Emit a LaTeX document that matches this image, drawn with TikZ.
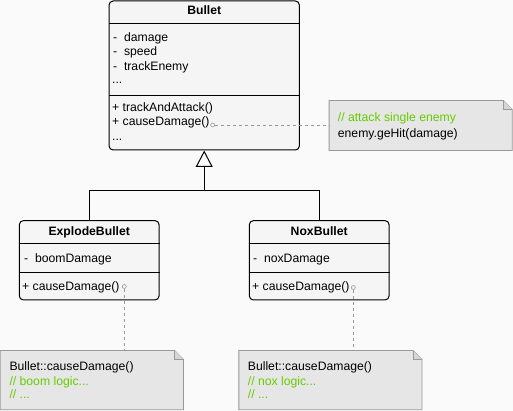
\documentclass[tikz,border=0pt]{standalone}
\usepackage{fontspec}
\setmainfont{Liberation Sans}
\usetikzlibrary{arrows.meta}
\definecolor{canvas}{HTML}{FAFAFA}
\definecolor{classfill}{HTML}{F5F5F5}
\definecolor{notefill}{HTML}{E6E6E6}
\definecolor{noteedge}{HTML}{999999}
\definecolor{foldgray}{HTML}{D6D6D6}
\definecolor{comment}{HTML}{66CC00}
\tikzset{%
    classbox/.style={draw, fill=classfill, rounded corners=4pt, line width=1pt, inner sep=0pt},
    member/.style={anchor=base west, inner sep=0pt, font=\fontsize{12.2}{14}\selectfont},
    title/.style={anchor=base, inner sep=0pt, font=\fontsize{12.2}{14}\selectfont\bfseries},
    remark/.style={member, text=comment},
    memo/.style={draw=noteedge, dash pattern=on 3pt off 3pt, line width=0.8pt},
    pin/.style={circle, draw=noteedge, fill=classfill, minimum size=4pt, inner sep=0pt, line width=0.6pt},
    notebox/.style={inner sep=0pt},
    noteline/.style={draw=noteedge, fill=notefill, line width=0.9pt}
}
\tikzset{divider/.style={line width=1pt}}
\newcommand{\drawnote}[1]{%
    \draw[noteline] (#1.south west) -- (#1.north west) -- ([xshift=-9pt]#1.north east)
        -- ([yshift=-9pt]#1.north east) -- (#1.south east) -- cycle;
    \draw[noteline, fill=foldgray] ([xshift=-9pt]#1.north east) -- ([xshift=-9pt,yshift=-9pt]#1.north east)
        -- ([yshift=-9pt]#1.north east);
}
\begin{document}
\begin{tikzpicture}[x=1pt, y=-1pt]
    \fill[canvas] (0,0) rectangle (513,411);
    \useasboundingbox (0,0) rectangle (513,411);

    % classes
    \node[classbox, minimum width=190.3pt, minimum height=149pt] (bullet) at (204.2,75.5) {};
    \node[classbox, minimum width=139.7pt, minimum height=79.3pt] (explode) at (89.2,260.3) {};
    \node[classbox, minimum width=139.7pt, minimum height=79.3pt] (nox) at (319.2,260.3) {};

    \draw[divider] (bullet.west |- 0,24) -- (bullet.east |- 0,24);
    \draw[divider] (bullet.west |- 0,95.7) -- (bullet.east |- 0,95.7);
    \draw[divider] (explode.west |- 0,244) -- (explode.east |- 0,244);
    \draw[divider] (explode.west |- 0,272.3) -- (explode.east |- 0,272.3);
    \draw[divider] (nox.west |- 0,244) -- (nox.east |- 0,244);
    \draw[divider] (nox.west |- 0,272.3) -- (nox.east |- 0,272.3);

    \node[title] (bname) at (204.2,15) {Bullet};
    \node[member] (bdamage) at (113,41.5) {- \ damage};
    \node[member] (bspeed) at (113,56) {- \ speed};
    \node[member] (btrack) at (113,70.5) {- \ trackEnemy};
    \node[member] (bmore) at (112,84) {...};
    \node[member] (battack) at (112,112) {+ trackAndAttack()};
    \node[member] (bcause) at (112,125.5) {+ causeDamage()};
    \node[member] (bmethods) at (112,141) {...};

    \node[title] (ename) at (89.2,236) {ExplodeBullet};
    \node[member] (eboom) at (24,262.5) {- \ boomDamage};
    \node[member] (ecause) at (22,290.5) {+ causeDamage()};

    \node[title] (nname) at (319.2,236) {NoxBullet};
    \node[member] (nnox) at (253,262.5) {- \ noxDamage};
    \node[member] (ncause) at (252,290.5) {+ causeDamage()};

    % inheritance
    \coordinate (join) at (204.2,190.7);
    \draw[divider] (explode.north) |- (join) -| (nox.north);
    \draw[divider, -{Triangle[open, width=17pt, length=16.5pt]}] (join) -- (bullet.south);

    % notes
    \node[notebox, minimum width=182.7pt, minimum height=49.6pt] (atknote) at (420.7,125.5) {};
    \node[notebox, minimum width=182.8pt, minimum height=58.8pt] (boomnote) at (91.9,380.1) {};
    \node[notebox, minimum width=182.7pt, minimum height=58.8pt] (noxnote) at (330.4,380.1) {};
    \drawnote{atknote}
    \drawnote{boomnote}
    \drawnote{noxnote}

    \node[remark] (atkc) at (337.7,121.5) {// attack single enemy};
    \node[member] (atkcode) at (337.7,137.5) {enemy.geHit(damage)};
    \node[member] (boomcall) at (9.3,370) {Bullet::causeDamage()};
    \node[remark] (boomc) at (9.3,385) {// boom logic...};
    \node[remark] (boomrest) at (9.3,398.5) {// ...};
    \node[member] (noxcall) at (247.7,370) {Bullet::causeDamage()};
    \node[remark] (noxc) at (247.7,385) {// nox logic...};
    \node[remark] (noxrest) at (247.7,398.5) {// ...};

    \node[pin] (bpin) at (212.7,125) {};
    \node[pin] (epin) at (124.3,286.5) {};
    \node[pin] (npin) at (353.3,287.5) {};
    \draw[memo] (bpin) -- (bpin -| atknote.west);
    \draw[memo] (epin) -- (epin |- boomnote.north);
    \draw[memo] (npin) -- (npin |- noxnote.north);
\end{tikzpicture}
\end{document}
